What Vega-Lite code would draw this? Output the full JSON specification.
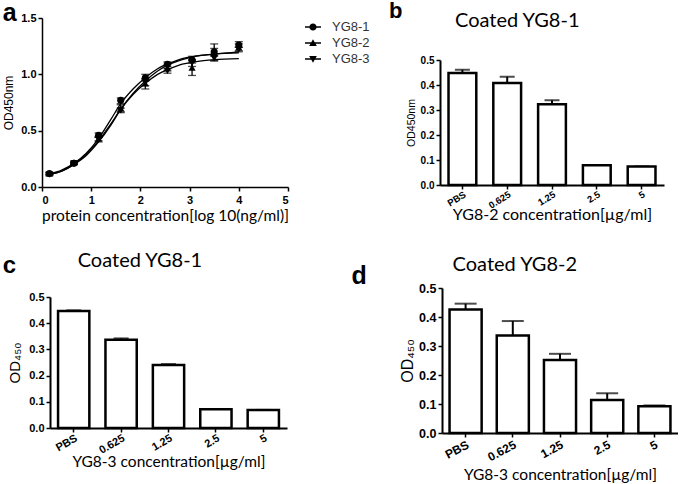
{
  "$schema": "https://vega.github.io/schema/vega-lite/v6.json",
  "background": "white",
  "padding": {"left": 2, "top": 0, "right": 0, "bottom": 0},
  "spacing": 27,
  "resolve": {"scale": {"shape": "independent"}, "legend": {"shape": "independent"}},
  "datasets": {
    "curve": [
      {"s": "YG8-1", "x": 0.15, "y": 0.115}, {"s": "YG8-1", "x": 0.4, "y": 0.15}, {"s": "YG8-1", "x": 0.65, "y": 0.21}, {"s": "YG8-1", "x": 0.9, "y": 0.3}, {"s": "YG8-1", "x": 1.15, "y": 0.43}, {"s": "YG8-1", "x": 1.4, "y": 0.6}, {"s": "YG8-1", "x": 1.6, "y": 0.74}, {"s": "YG8-1", "x": 1.85, "y": 0.87}, {"s": "YG8-1", "x": 2.1, "y": 0.97}, {"s": "YG8-1", "x": 2.35, "y": 1.05}, {"s": "YG8-1", "x": 2.6, "y": 1.1}, {"s": "YG8-1", "x": 2.85, "y": 1.14}, {"s": "YG8-1", "x": 3.1, "y": 1.16}, {"s": "YG8-1", "x": 3.5, "y": 1.18}, {"s": "YG8-1", "x": 4.0, "y": 1.19},
      {"s": "YG8-2", "x": 0.15, "y": 0.11}, {"s": "YG8-2", "x": 0.4, "y": 0.14}, {"s": "YG8-2", "x": 0.65, "y": 0.2}, {"s": "YG8-2", "x": 0.9, "y": 0.28}, {"s": "YG8-2", "x": 1.15, "y": 0.4}, {"s": "YG8-2", "x": 1.4, "y": 0.55}, {"s": "YG8-2", "x": 1.6, "y": 0.69}, {"s": "YG8-2", "x": 1.85, "y": 0.83}, {"s": "YG8-2", "x": 2.1, "y": 0.94}, {"s": "YG8-2", "x": 2.35, "y": 1.03}, {"s": "YG8-2", "x": 2.6, "y": 1.09}, {"s": "YG8-2", "x": 2.85, "y": 1.13}, {"s": "YG8-2", "x": 3.1, "y": 1.16}, {"s": "YG8-2", "x": 3.5, "y": 1.18}, {"s": "YG8-2", "x": 4.0, "y": 1.2},
      {"s": "YG8-3", "x": 0.15, "y": 0.11}, {"s": "YG8-3", "x": 0.4, "y": 0.14}, {"s": "YG8-3", "x": 0.65, "y": 0.2}, {"s": "YG8-3", "x": 0.9, "y": 0.29}, {"s": "YG8-3", "x": 1.15, "y": 0.41}, {"s": "YG8-3", "x": 1.4, "y": 0.56}, {"s": "YG8-3", "x": 1.6, "y": 0.69}, {"s": "YG8-3", "x": 1.85, "y": 0.82}, {"s": "YG8-3", "x": 2.1, "y": 0.92}, {"s": "YG8-3", "x": 2.35, "y": 1.0}, {"s": "YG8-3", "x": 2.6, "y": 1.05}, {"s": "YG8-3", "x": 2.85, "y": 1.09}, {"s": "YG8-3", "x": 3.1, "y": 1.11}, {"s": "YG8-3", "x": 3.5, "y": 1.13}, {"s": "YG8-3", "x": 4.0, "y": 1.14}
    ],
    "pts": [
      {"s": "YG8-1", "x": 0.15, "y": 0.12, "lo": 0.11, "hi": 0.13}, {"s": "YG8-1", "x": 0.65, "y": 0.21, "lo": 0.2, "hi": 0.22}, {"s": "YG8-1", "x": 1.15, "y": 0.46, "lo": 0.44, "hi": 0.48}, {"s": "YG8-1", "x": 1.6, "y": 0.77, "lo": 0.74, "hi": 0.79}, {"s": "YG8-1", "x": 2.1, "y": 0.97, "lo": 0.94, "hi": 1.0}, {"s": "YG8-1", "x": 2.55, "y": 1.09, "lo": 1.07, "hi": 1.11}, {"s": "YG8-1", "x": 3.05, "y": 1.13, "lo": 1.1, "hi": 1.16}, {"s": "YG8-1", "x": 3.5, "y": 1.2, "lo": 1.17, "hi": 1.23}, {"s": "YG8-1", "x": 4.0, "y": 1.26, "lo": 1.24, "hi": 1.29},
      {"s": "YG8-2", "x": 0.15, "y": 0.12, "lo": 0.11, "hi": 0.13}, {"s": "YG8-2", "x": 0.65, "y": 0.22, "lo": 0.21, "hi": 0.23}, {"s": "YG8-2", "x": 1.15, "y": 0.43, "lo": 0.41, "hi": 0.45}, {"s": "YG8-2", "x": 1.6, "y": 0.7, "lo": 0.67, "hi": 0.73}, {"s": "YG8-2", "x": 2.1, "y": 0.92, "lo": 0.87, "hi": 0.96}, {"s": "YG8-2", "x": 2.55, "y": 1.06, "lo": 1.03, "hi": 1.09}, {"s": "YG8-2", "x": 3.05, "y": 1.06, "lo": 0.99, "hi": 1.12}, {"s": "YG8-2", "x": 3.5, "y": 1.19, "lo": 1.12, "hi": 1.27}, {"s": "YG8-2", "x": 4.0, "y": 1.24, "lo": 1.21, "hi": 1.27},
      {"s": "YG8-3", "x": 0.15, "y": 0.11, "lo": 0.1, "hi": 0.12}, {"s": "YG8-3", "x": 0.65, "y": 0.21, "lo": 0.2, "hi": 0.22}, {"s": "YG8-3", "x": 1.15, "y": 0.42, "lo": 0.4, "hi": 0.44}, {"s": "YG8-3", "x": 1.6, "y": 0.68, "lo": 0.66, "hi": 0.7}, {"s": "YG8-3", "x": 2.1, "y": 0.93, "lo": 0.9, "hi": 0.96}, {"s": "YG8-3", "x": 2.55, "y": 1.03, "lo": 1.01, "hi": 1.05}, {"s": "YG8-3", "x": 3.05, "y": 1.1, "lo": 1.07, "hi": 1.13}, {"s": "YG8-3", "x": 3.5, "y": 1.14, "lo": 1.12, "hi": 1.16}, {"s": "YG8-3", "x": 4.0, "y": 1.22, "lo": 1.2, "hi": 1.24}
    ],
    "b": [
      {"c": "PBS", "v": 0.448, "hi": 0.461}, {"c": "0.625", "v": 0.408, "hi": 0.433}, {"c": "1.25", "v": 0.323, "hi": 0.339}, {"c": "2.5", "v": 0.079, "hi": 0.079}, {"c": "5", "v": 0.074, "hi": 0.074}
    ],
    "c": [
      {"c": "PBS", "v": 0.447, "hi": 0.449}, {"c": "0.625", "v": 0.337, "hi": 0.342}, {"c": "1.25", "v": 0.24, "hi": 0.244}, {"c": "2.5", "v": 0.072, "hi": 0.072}, {"c": "5", "v": 0.069, "hi": 0.069}
    ],
    "d": [
      {"c": "PBS", "v": 0.426, "hi": 0.446}, {"c": "0.625", "v": 0.336, "hi": 0.386}, {"c": "1.25", "v": 0.252, "hi": 0.273}, {"c": "2.5", "v": 0.114, "hi": 0.137}, {"c": "5", "v": 0.092, "hi": 0.095}
    ],
    "none": []
  },
  "vconcat": [
    {
      "spacing": 19,
      "resolve": {"scale": {"shape": "independent"}, "legend": {"shape": "independent"}},
      "hconcat": [
        {
          "width": 246,
          "height": 169,
          "title": {"text": "a", "anchor": "start", "frame": "bounds", "font": "Liberation Sans", "fontSize": 25, "fontWeight": "bold", "color": "black", "offset": -14},
          "resolve": {"scale": {"shape": "independent"}, "legend": {"shape": "independent"}},
          "encoding": {
            "x": {"field": "x", "type": "quantitative", "scale": {"domain": [0, 5], "nice": false}, "axis": {"title": "protein concentration[log 10(ng/ml)]", "values": [0, 1, 2, 3, 4, 5], "format": "d", "labelFontSize": 11, "titleFont": "Lato", "titleFontSize": 15.5, "titlePadding": 3, "domainWidth": 1.5, "tickWidth": 1.5, "tickSize": 4, "labelPadding": 3}},
            "y": {"field": "y", "type": "quantitative", "scale": {"domain": [0, 1.5], "nice": false}, "axis": {"title": "OD450nm", "values": [0, 0.5, 1, 1.5], "format": ".1f", "labelFontSize": 11, "titleFont": "Liberation Sans", "titleFontSize": 12, "titlePadding": 5, "domainWidth": 1.5, "tickWidth": 1.5, "tickSize": 4, "labelPadding": 2}}
          },
          "layer": [
            {"data": {"name": "curve"}, "mark": {"type": "line", "color": "black", "strokeWidth": 1.3, "interpolate": "monotone"}, "encoding": {"detail": {"field": "s", "type": "nominal"}}},
            {"data": {"name": "pts"}, "mark": {"type": "rule", "color": "black", "strokeWidth": 1.3}, "encoding": {"y": {"field": "lo", "type": "quantitative"}, "y2": {"field": "hi"}}},
            {"data": {"name": "pts"}, "mark": {"type": "tick", "orient": "horizontal", "color": "black", "size": 8, "thickness": 1.3}, "encoding": {"y": {"field": "hi", "type": "quantitative"}}},
            {"data": {"name": "pts"}, "mark": {"type": "tick", "orient": "horizontal", "color": "black", "size": 8, "thickness": 1.3}, "encoding": {"y": {"field": "lo", "type": "quantitative"}}},
            {"data": {"name": "pts"}, "mark": {"type": "point", "filled": true, "color": "black", "opacity": 1, "size": 50},
             "encoding": {"shape": {"field": "s", "type": "nominal", "scale": {"domain": ["YG8-1", "YG8-2", "YG8-3"], "range": ["circle", "triangle-up", "triangle-down"]}, "legend": null}}},
            {"data": {"name": "pts"}, "transform": [{"filter": "datum.x > 100"}],
             "mark": {"type": "point", "filled": true, "color": "black", "opacity": 1, "size": 256},
             "encoding": {"shape": {"field": "s", "type": "nominal",
               "scale": {"domain": ["YG8-1", "YG8-2", "YG8-3"], "range": ["M-1,-0.09L1,-0.09L1,0.09L-1,0.09ZM0.45,0A0.45,0.45,0,1,1,-0.45,0A0.45,0.45,0,1,1,0.45,0Z", "M-1,-0.09L1,-0.09L1,0.09L-1,0.09ZM0,-0.48L0.48,0.36L-0.48,0.36Z", "M-1,-0.09L1,-0.09L1,0.09L-1,0.09ZM0,0.48L-0.48,-0.36L0.48,-0.36Z"]},
               "legend": {"title": null, "orient": "right", "offset": 16, "padding": 0, "labelFont": "Liberation Sans", "labelFontSize": 13, "labelColor": "#333", "symbolSize": 256, "symbolOpacity": 1, "rowPadding": 0, "labelOffset": 10}}}}
          ]
        },
        {
          "title": {"text": "b", "anchor": "start", "frame": "bounds", "font": "Liberation Sans", "fontSize": 22, "fontWeight": "bold", "color": "black", "offset": -12, "dx": -17},
          "spacing": -8,
          "vconcat": [
            {"width": 1, "height": 1, "data": {"name": "none"}, "mark": "point"},
            {
              "width": 224,
              "height": 125,
              "title": {"text": "Coated YG8-1", "anchor": "start", "frame": "group", "font": "Lato", "fontSize": 20, "fontWeight": "normal", "color": "black", "dx": 15, "offset": 24},
              "data": {"name": "b"},
              "encoding": {
                "x": {"field": "c", "type": "nominal", "sort": null, "scale": {"paddingInner": 0.38, "paddingOuter": 0.19}, "axis": {"title": "YG8-2 concentration[µg/ml]", "labelAngle": -32, "labelFontSize": 9.5, "titleFont": "Lato", "titleFontSize": 16, "titlePadding": -3, "domainWidth": 2, "tickWidth": 1.5, "tickSize": 4, "labelPadding": 0}},
                "y": {"field": "v", "type": "quantitative", "scale": {"domain": [0, 0.5], "nice": false}, "axis": {"title": "OD450nm", "values": [0, 0.1, 0.2, 0.3, 0.4, 0.5], "format": ".1f", "labelFontSize": 10, "titleFont": "Liberation Sans", "titleFontSize": 10.5, "titlePadding": 4, "domainWidth": 2, "tickWidth": 1.5, "tickSize": 4, "labelPadding": 2}}
              },
              "layer": [
                {"mark": {"type": "rule", "color": "black", "strokeWidth": 2}, "encoding": {"y2": {"field": "hi"}}},
                {"mark": {"type": "tick", "orient": "horizontal", "color": "black", "size": 15, "thickness": 2}, "encoding": {"y": {"field": "hi", "type": "quantitative"}}},
                {"mark": {"type": "bar", "fill": "white", "stroke": "black", "strokeWidth": 2.5}}
              ]
            }
          ]
        }
      ]
    },
    {
      "spacing": 64,
      "hconcat": [
        {
          "spacing": -41,
          "hconcat": [
            {"width": 1, "height": 1, "data": {"name": "none"}, "mark": "point"},
            {
              "spacing": -38,
              "vconcat": [
                {"width": 1, "height": 1, "data": {"name": "none"}, "mark": "point"},
                {
                  "title": {"text": "Coated YG8-1", "anchor": "start", "frame": "bounds", "font": "Lato", "fontSize": 20, "fontWeight": "normal", "color": "black", "dx": 75, "offset": -17},
                  "vconcat": [
                    {
                      "width": 237,
                      "height": 131,
                      "title": {"text": "c", "anchor": "start", "frame": "bounds", "font": "Liberation Sans", "fontSize": 24, "fontWeight": "bold", "color": "black", "offset": 13, "dx": -5},
                      "data": {"name": "c"},
                      "encoding": {
                        "x": {"field": "c", "type": "nominal", "sort": null, "scale": {"paddingInner": 0.34, "paddingOuter": 0.17}, "axis": {"title": "YG8-3 concentration[µg/ml]", "labelAngle": -30, "labelFontSize": 11, "titleFont": "Lato", "titleFontSize": 15.5, "titlePadding": -1, "domainWidth": 2, "tickWidth": 1.5, "tickSize": 4, "labelPadding": 0}},
                        "y": {"field": "v", "type": "quantitative", "scale": {"domain": [0, 0.5], "nice": false}, "axis": {"title": "OD₄₅₀", "values": [0, 0.1, 0.2, 0.3, 0.4, 0.5], "format": ".1f", "labelFontSize": 11, "titleFont": "Liberation Sans", "titleFontSize": 15, "titlePadding": 6, "domainWidth": 2, "tickWidth": 1.5, "tickSize": 4, "labelPadding": 2}}
                      },
                      "layer": [
                        {"mark": {"type": "rule", "color": "black", "strokeWidth": 2}, "encoding": {"y2": {"field": "hi"}}},
                        {"mark": {"type": "tick", "orient": "horizontal", "color": "black", "size": 15, "thickness": 2}, "encoding": {"y": {"field": "hi", "type": "quantitative"}}},
                        {"mark": {"type": "bar", "fill": "white", "stroke": "black", "strokeWidth": 2.5}}
                      ]
                    }
                  ]
                }
              ]
            }
          ]
        },
        {
          "title": {"text": "Coated YG8-2", "anchor": "start", "frame": "bounds", "font": "Lato", "fontSize": 20, "fontWeight": "normal", "color": "black", "dx": 101, "offset": -11},
          "vconcat": [
            {
              "width": 236,
              "height": 145,
              "title": {"text": "d", "anchor": "start", "frame": "bounds", "font": "Liberation Sans", "fontSize": 25, "fontWeight": "bold", "color": "black", "offset": -7, "dx": -48},
              "data": {"name": "d"},
              "encoding": {
                "x": {"field": "c", "type": "nominal", "sort": null, "scale": {"paddingInner": 0.32, "paddingOuter": 0.16}, "axis": {"title": "YG8-3 concentration[µg/ml]", "labelAngle": -28, "labelFontSize": 12, "titleFont": "Lato", "titleFontSize": 15.5, "titlePadding": 5, "domainWidth": 2, "tickWidth": 1.5, "tickSize": 4, "labelPadding": 2}},
                "y": {"field": "v", "type": "quantitative", "scale": {"domain": [0, 0.5], "nice": false}, "axis": {"title": "OD₄₅₀", "values": [0, 0.1, 0.2, 0.3, 0.4, 0.5], "format": ".1f", "labelFontSize": 12.5, "titleFont": "Liberation Sans", "titleFontSize": 16, "titlePadding": 3, "domainWidth": 2, "tickWidth": 1.5, "tickSize": 4, "labelPadding": 2}}
              },
              "layer": [
                {"mark": {"type": "rule", "color": "black", "strokeWidth": 2}, "encoding": {"y2": {"field": "hi"}}},
                {"mark": {"type": "tick", "orient": "horizontal", "color": "black", "size": 22, "thickness": 2}, "encoding": {"y": {"field": "hi", "type": "quantitative"}}},
                {"mark": {"type": "bar", "fill": "white", "stroke": "black", "strokeWidth": 2.5}}
              ]
            }
          ]
        }
      ]
    }
  ],
  "config": {
    "view": {"stroke": null},
    "font": "Liberation Sans",
    "axis": {"domainColor": "black", "tickColor": "black", "labelColor": "black", "titleColor": "black", "grid": false, "labelFont": "Liberation Sans", "labelFontWeight": "bold", "titleFontWeight": "normal"}
  }
}
